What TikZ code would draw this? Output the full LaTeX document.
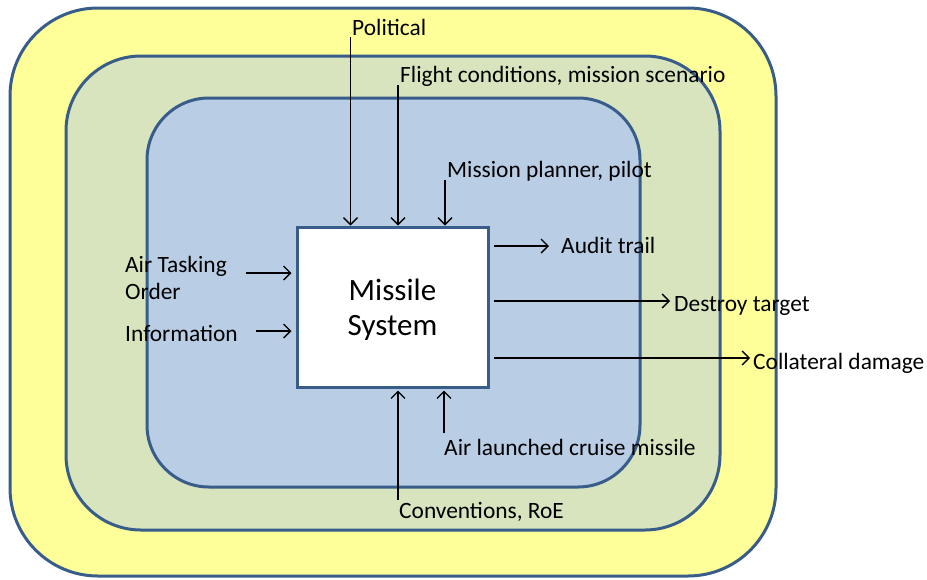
\documentclass[tikz,border=0pt]{standalone}
\usepackage{fontspec}
\setmainfont{Carlito}
\usepackage{xcolor}
\usetikzlibrary{arrows.meta, positioning, calc}
\definecolor{zoneline}{HTML}{385D8A}
\definecolor{zoneouter}{HTML}{FFFF99}
\definecolor{zonemiddle}{HTML}{D7E4BD}
\definecolor{zoneinner}{HTML}{B9CDE5}
\tikzset{
	zone/.style={draw=zoneline, line width=3pt},
	sig/.style={draw, line width=1.3pt, -{Straight Barb[length=7pt, width=14pt, line width=1.3pt]}},
	lbl/.style={anchor=west, inner sep=0pt, font=\fontsize{23.4}{27}\selectfont, align=left}
}

\begin{document}
\begin{tikzpicture}[
		x=1pt, y=-1pt,
		sysbox/.style={rectangle, draw=zoneline, line width=3pt, fill=white},
		systxt/.style={align=center, inner sep=0pt, font=\fontsize{31}{35}\selectfont}
		]
		\useasboundingbox (0,0) rectangle (927,579);
		
		% --- Nested environment zones ---
		\draw[zone, fill=zoneouter, rounded corners=88pt] (10,8) rectangle (776,576);
		\draw[zone, fill=zonemiddle, rounded corners=75pt] (66,56) rectangle (720,530);
		\draw[zone, fill=zoneinner, rounded corners=62pt] (147,98) rectangle (640,487);
		
		% --- The system itself ---
		\node[sysbox, minimum width=191pt, minimum height=160pt] (sys) at (392.5,307) {};
		\node[systxt] (sys_text) at ($(sys.center)+(0,3)$) {Missile\\System};
		
		% --- Labels ---
		\node[lbl] (political) at (352,27) {Political};
		\node[lbl] (flight) at (400,76) {Flight conditions, mission scenario};
		\node[lbl] (planner) at (447,171) {Mission planner, pilot};
		\node[lbl] (audit) at (561,245) {Audit trail};
		\node[lbl] (destroy) at (674,306) {Destroy target};
		\node[lbl] (collateral) at (753,363) {Collateral damage};
		\node[lbl] (ato) at (125,278) {Air Tasking\\Order};
		\node[lbl] (info) at (125,333) {Information};
		\node[lbl] (alcm) at (444,447) {Air launched cruise missile};
		\node[lbl] (roe) at (399,512) {Conventions, RoE};
		
		% --- Free ends of the signal lines ---
		\coordinate (political_in) at (350.5,37);
		\coordinate (flight_in) at (398,85);
		\coordinate (planner_in) at (445,180);
		\coordinate (ato_in) at (246,273);
		\coordinate (info_in) at (256,331);
		\coordinate (roe_in) at (398,500);
		\coordinate (alcm_in) at (444,433);
		
		% --- Inputs from above ---
		\draw[sig] (political_in) -- (political_in |- sys.north);
		\draw[sig] (flight_in) -- (flight_in |- sys.north);
		\draw[sig] (planner_in) -- (planner_in |- sys.north);
		
		% --- Inputs from the left ---
		\draw[sig, shorten >=4pt] (ato_in) -- (ato_in -| sys.west);
		\draw[sig, shorten >=4pt] (info_in) -- (info_in -| sys.west);
		
		% --- Inputs from below ---
		\draw[sig, shorten >=2pt] (roe_in) -- (roe_in |- sys.south);
		\draw[sig, shorten >=2pt] (alcm_in) -- (alcm_in |- sys.south);
		
		% --- Outputs to the right ---
		\draw[sig, shorten <=4pt, shorten >=12pt] ($(sys.east |- audit.west)+(0,1)$) -- ($(audit.west)+(0,1)$);
		\draw[sig, shorten <=4pt, shorten >=4pt] ($(sys.east |- destroy.west)+(0,-5)$) -- ($(destroy.west)+(0,-5)$);
		\draw[sig, shorten <=4pt, shorten >=3pt] ($(sys.east |- collateral.west)+(0,-5)$) -- ($(collateral.west)+(0,-5)$);
		
	\end{tikzpicture}
\end{document}
